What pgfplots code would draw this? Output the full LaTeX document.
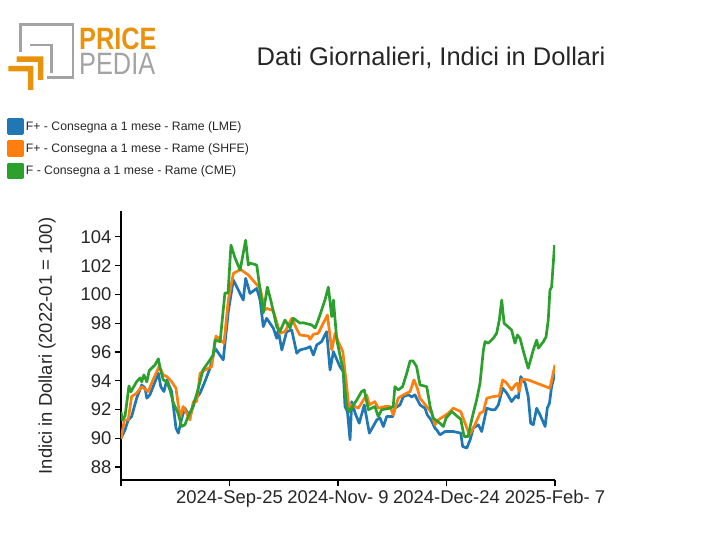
\documentclass[border=0pt]{standalone}
\usepackage{graphicx}
\usepackage{fontspec}
\setmainfont{Liberation Sans}
\usepackage{pgfplots}
\pgfplotsset{compat=1.18}
\definecolor{cblue}{HTML}{1F77B4}
\definecolor{corange}{HTML}{FF7F0E}
\definecolor{cgreen}{HTML}{2CA02C}
\definecolor{logoorange}{HTML}{E8920E}
\definecolor{logogray}{HTML}{A3A3A3}
\definecolor{txt}{HTML}{262626}
\begin{document}
\begin{tikzpicture}[x=1bp,y=1bp]
\path[use as bounding box] (-121bp,-75bp) rectangle (591bp,480bp);
\begin{axis}[
  at={(0,0)}, anchor=south west,
  scale only axis, width=434bp, height=269bp,
  xmin=0, xmax=180, ymin=87.1, ymax=105.8,
  axis lines*=left,
  axis line style={line width=1.2bp, black},
  tick style={line width=1.2bp, black},
  major tick length=6bp,
  tick align=outside,
  xtick={0,45,90,135,180},
  xticklabels={,2024-Sep-25,2024-Nov- 9,2024-Dec-24,2025-Feb- 7},
  ytick={88,90,...,104},
  /pgf/number format/assume math mode=true,
  ticklabel style={font=\fontsize{18.5}{20}\selectfont, text=txt},
  xticklabel style={yshift=-1bp},
  ylabel={Indici in Dollari (2022-01 = 100)},
  ylabel style={at={(axis description cs:-0.1705,0.498)}, anchor=center, font=\fontsize{18.5}{20}\selectfont, text=txt},
  legend style={at={(axis description cs:-0.2627,1.3457)}, anchor=north west, draw=none, fill=none,
    font=\fontsize{12.3}{13}\selectfont, text=txt, inner sep=0pt, row sep=5.5bp,
    cells={anchor=west}},
  legend cell align=left,
  legend image code/.code={\fill[#1] (0bp,-7bp) rectangle (14bp,7bp);},
  every axis plot/.append style={line width=2.7bp, line join=round},
]
\addplot[cblue] table {
0 90.01
1.7 90.59
3.0 91.28
4.4 91.51
6.5 92.79
8.6 93.71
10.0 93.48
10.7 92.79
12.0 93.02
15.5 94.52
16.5 93.59
17.8 93.25
19.0 94.06
21.0 93.25
22.8 90.71
23.8 90.36
25.2 91.40
26.5 92.09
28.6 91.51
30.7 92.67
32.8 93.14
34.8 93.94
36.9 94.87
39.0 96.26
42.4 95.45
44.5 98.80
46.6 101.00
50.7 99.61
51.7 101.12
53.5 100.07
56.3 100.42
57.7 99.61
59.0 97.76
60.4 98.34
63.2 97.65
64.6 96.95
65.2 97.53
66.7 96.14
68.7 97.41
70.8 97.53
72.9 95.91
74.2 96.14
77.0 96.26
78.4 96.37
79.8 95.79
81.2 96.49
83.2 96.72
85.3 97.41
86.7 94.75
88.1 96.02
90.8 94.98
92.2 94.63
92.9 92.21
93.9 91.86
95.0 89.89
95.7 92.55
97.1 91.75
98.8 91.05
100.9 92.32
103.0 90.36
106.1 91.28
107.4 91.42
108.8 90.82
110.2 91.51
112.7 91.51
113.6 92.09
115.7 92.32
117.1 92.90
119.2 93.02
120.6 92.88
121.9 93.02
124.0 92.32
126.1 92.09
127.0 91.63
128.6 91.28
130.2 90.71
130.9 90.59
132.3 90.24
134.4 90.47
137.8 90.47
140.9 90.36
141.7 89.43
143.4 89.32
144.8 89.89
146.1 90.71
148.2 90.94
149.6 90.47
151.7 92.09
153.8 91.98
155.1 91.98
156.5 92.32
158.3 93.48
160.0 93.14
162.0 92.55
163.8 92.95
164.8 92.79
165.8 94.29
167.6 93.83
168.9 92.90
169.9 91.05
171.0 90.94
172.4 92.09
173.8 91.63
175.9 90.82
176.8 92.09
177.7 92.44
178.6 93.59
180 94.54
};
\addlegendentry{F+ - Consegna a 1 mese - Rame (LME)}
\addplot[corange] table {
0 89.94
1.4 91.28
3.0 91.28
4.4 92.90
6.5 93.14
8.6 93.59
10.0 93.41
11.3 93.25
12.7 93.83
15.9 95.03
17.5 94.41
19.0 94.29
21.0 93.94
22.8 93.48
24.5 91.40
25.8 92.21
27.2 91.75
28.6 91.28
30.0 92.55
31.4 92.55
32.8 94.52
34.8 94.75
37.6 94.98
39.4 97.11
42.7 96.61
44.5 99.61
46.6 101.46
49.6 101.74
52.8 101.35
57.7 100.42
59.7 98.92
60.4 99.03
63.2 98.87
65.9 97.30
68.0 97.41
70.8 98.34
72.9 97.58
74.2 97.18
77.7 97.11
78.4 96.88
79.8 97.23
81.8 97.30
85.6 98.57
87.4 96.14
88.8 97.30
90.1 96.72
92.0 96.02
93.3 94.06
94.7 91.86
95.7 92.32
98.4 92.09
101.9 93.02
103.0 92.32
105.3 92.55
106.7 92.09
109.5 92.21
111.6 92.21
112.9 91.63
115.0 92.79
117.1 93.02
119.9 93.25
121.5 94.06
122.9 93.48
124.0 92.79
126.8 92.21
128.9 91.75
130.2 90.94
131.6 91.28
133.7 91.51
135.8 91.75
137.8 92.09
140.9 91.86
142.7 91.05
144.5 90.24
146.8 90.94
148.9 91.75
150.3 91.86
151.7 92.79
154.4 92.90
156.9 92.95
158.3 94.06
160.0 93.83
162.0 93.36
163.4 93.71
164.4 93.83
165.1 93.25
166.2 94.11
168.9 94.06
177.9 93.48
180 95.10
};
\addlegendentry{F+ - Consegna a 1 mese - Rame (SHFE)}
\addplot[cgreen] table {
0 91.84
0.6 91.28
1.7 91.56
3.3 93.64
4.1 93.23
6.5 93.94
7.9 94.20
8.6 93.92
9.5 94.41
10.7 93.92
11.7 94.70
14.1 95.10
15.5 95.52
16.2 94.89
17.5 94.06
19.0 93.92
20.3 93.36
21.7 92.46
23.6 91.77
25.2 90.82
26.5 90.94
27.8 91.51
29.9 92.21
31.9 93.36
34.0 94.75
36.9 95.45
38.2 95.79
39.0 96.83
41.1 96.72
43.1 100.10
44.4 100.10
45.6 103.43
47.3 102.53
49.4 101.69
51.7 103.77
52.8 102.04
53.5 102.18
56.3 102.04
57.7 100.30
59.0 98.71
60.7 100.51
62.1 99.61
64.6 97.76
65.9 97.41
68.0 98.22
70.1 97.67
71.5 98.34
74.2 98.01
75.5 98.03
79.1 97.88
80.5 97.67
81.8 98.22
84.6 99.61
86.0 100.51
87.4 98.45
88.1 99.61
89.5 96.83
90.8 95.79
92.1 94.75
93.6 92.21
94.7 91.86
97.8 92.67
99.8 93.25
100.9 93.36
102.6 91.98
105.3 92.21
106.7 91.51
108.1 91.98
111.6 92.09
112.9 92.21
113.6 93.59
115.0 93.36
116.8 93.59
118.5 94.52
119.9 95.38
121.1 95.38
122.6 94.98
124.0 93.71
126.8 93.59
128.2 92.21
129.5 91.40
132.3 91.05
133.7 90.82
134.8 91.40
137.2 91.86
139.2 91.56
140.9 91.33
142.3 90.12
144.0 90.12
144.8 90.82
146.1 91.75
147.5 92.67
148.9 93.83
150.3 96.14
151.0 96.72
152.3 96.61
154.4 96.95
155.8 97.30
156.9 98.22
157.9 99.61
158.9 97.99
162.0 97.53
163.4 96.61
164.4 97.18
165.5 96.95
167.1 95.91
168.9 94.87
171.0 96.14
172.4 96.83
173.1 96.26
175.2 96.72
176.3 97.06
177.2 98.22
177.9 100.30
178.6 100.53
179.8 103.43
};
\addlegendentry{F - Consegna a 1 mese - Rame (CME)}
\end{axis}
% logo and title, in image pixel coordinates
\begin{scope}[shift={(-121bp,480bp)}, yscale=-1]
  \draw[logogray, line width=2.6bp] (20.5,52) -- (20.5,24.5) -- (73,24.5) -- (73,77.5) -- (47,77.5);
  \draw[logogray, line width=2.6bp] (30,45) -- (51.7,45) -- (51.7,73);
  \fill[logoorange] (16.7,56.5) rectangle (43.3,62) (37.8,56.5) rectangle (43.3,80);
  \fill[logoorange] (8.3,66) rectangle (33.3,71.5) (27.8,66) rectangle (33.3,90);
  \node[anchor=north west, inner sep=0pt, align=left, font=\fontsize{31}{25}\selectfont] at (79,27.5)
    {\textcolor{logoorange}{\bfseries\scalebox{0.82}[1]{PRICE}}\\\textcolor{logogray}{\scalebox{0.82}[1]{PEDIA}}};
  \node[anchor=center, inner sep=0pt, text=txt, font=\fontsize{25.6}{27}\selectfont] at (431,58) {Dati Giornalieri, Indici in Dollari};
\end{scope}
\end{tikzpicture}
\end{document}
